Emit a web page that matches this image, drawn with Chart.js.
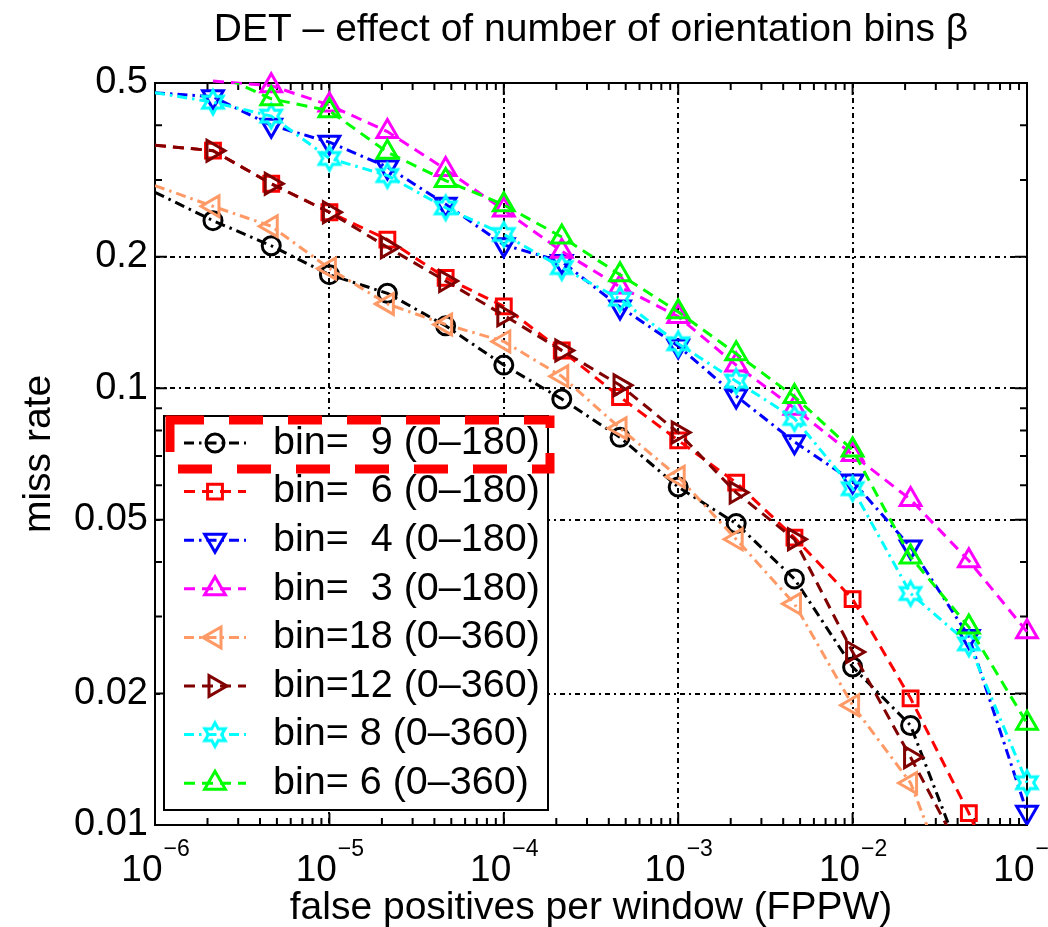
<!DOCTYPE html>
<html>
<head>
<meta charset="utf-8">
<title>DET – effect of number of orientation bins</title>
<script src="https://cdn.jsdelivr.net/npm/chart.js"></script>
<style>
  html, body { margin: 0; padding: 0; background: #fff; overflow: hidden; }
  canvas { display: block; }
</style>
</head>
<body>
<canvas id="det" width="1048" height="927"></canvas>
<script>
// FPPW values where the curves are sampled (the first one only carries the line to the axis)
const fppw = [1e-6, 2.15e-6, 4.64e-6, 1e-5, 2.15e-5, 4.64e-5, 1e-4, 2.15e-4, 4.64e-4, 1e-3, 2.15e-3, 4.64e-3, 1e-2, 2.15e-2, 4.64e-2, 1e-1];

// miss rate per curve
const bin9_180  = [0.281, 0.242, 0.212, 0.182, 0.165, 0.139, 0.113, 0.0945, 0.0772, 0.0594, 0.049, 0.0366, 0.023, 0.0169, 0.0076, null];
const bin6_180  = [0.36, 0.350, 0.294, 0.253, 0.219, 0.179, 0.154, 0.122, 0.0955, 0.076, 0.0608, 0.0455, 0.0329, 0.0195, 0.01065, 0.0052];
const bin4_180  = [0.475, 0.465, 0.40, 0.366, 0.321, 0.264, 0.213, 0.195, 0.1535, 0.125, 0.096, 0.0754, 0.0613, 0.0433, 0.027, 0.0107];
const bin3_180  = [null, 0.505, 0.493, 0.445, 0.387, 0.317, 0.256, 0.206, 0.1706, 0.146, 0.113, 0.090, 0.0705, 0.0556, 0.0403, 0.0277];
const bin18_360 = [0.291, 0.261, 0.235, 0.188, 0.156, 0.140, 0.128, 0.1065, 0.081, 0.0627, 0.0451, 0.0321, 0.0188, 0.01248, 0.0056, null];
const bin12_360 = [0.36, 0.350, 0.294, 0.253, 0.2104, 0.176, 0.147, 0.122, 0.1016, 0.0792, 0.0577, 0.0451, 0.0249, 0.0143, 0.008, null];
const bin8_360  = [0.475, 0.452, 0.42, 0.336, 0.307, 0.259, 0.225, 0.189, 0.160, 0.1265, 0.1038, 0.0853, 0.0589, 0.0339, 0.026, 0.0125];
const bin6_360  = [null, 0.53, 0.46, 0.432, 0.347, 0.299, 0.263, 0.222, 0.182, 0.1496, 0.120, 0.0957, 0.0722, 0.0411, 0.0284, 0.0171];

const seriesLabels = [
  'bin=  9 (0–180)', 'bin=  6 (0–180)', 'bin=  4 (0–180)', 'bin=  3 (0–180)',
  'bin=18 (0–360)', 'bin=12 (0–360)', 'bin= 8 (0–360)', 'bin= 6 (0–360)'
];
const seriesValues = [bin9_180, bin6_180, bin4_180, bin3_180, bin18_360, bin12_360, bin8_360, bin6_360];

// axes
const xTickValues = [1e-6, 1e-5, 1e-4, 1e-3, 1e-2, 1e-1];
const xTickExponents = ['−6', '−5', '−4', '−3', '−2', '−1'];
const xMinorSteps = [2, 3, 4, 5, 6, 7, 8, 9];
const yTickValues = [0.01, 0.02, 0.05, 0.1, 0.2, 0.5];
const yTickLabels = ['0.01', '0.02', '0.05', '0.1', '0.2', '0.5'];
const yMinorTicks = [0.03, 0.04, 0.06, 0.07, 0.08, 0.09, 0.3, 0.4];

const FONT = "'Liberation Sans', Arial, Helvetica, sans-serif";
const DASHED = [11, 7];
const DASHDOT = [10, 5, 2.5, 5];
const GRID_DASH = [5, 4, 2, 4];

// matlab style hexagram, Chart.js has no such point style
function hexagram(color) {
  const c = document.createElement('canvas');
  c.width = c.height = 32;
  const g = c.getContext('2d');
  g.strokeStyle = color;
  g.lineWidth = 3;
  g.beginPath();
  for (let i = 0; i < 12; i++) {
    const r = i % 2 ? 6.6 : 11.8;
    const a = -Math.PI / 2 + i * Math.PI / 6;
    const px = 16 + r * Math.cos(a), py = 16 + r * Math.sin(a);
    if (i === 0) g.moveTo(px, py); else g.lineTo(px, py);
  }
  g.closePath();
  g.stroke();
  return c;
}

const styles = [
  { color: '#000000', dash: DASHDOT, marker: 'circle',   rotation: 0,   radius: 9 },
  { color: '#ff0000', dash: DASHED,  marker: 'rect',     rotation: 0,   radius: 10.5 },
  { color: '#0000ff', dash: DASHDOT, marker: 'triangle', rotation: 180, radius: 12 },
  { color: '#ff00ff', dash: DASHED,  marker: 'triangle', rotation: 0,   radius: 12 },
  { color: '#ff9966', dash: DASHDOT, marker: 'triangle', rotation: 270, radius: 12 },
  { color: '#800000', dash: DASHED,  marker: 'triangle', rotation: 90,  radius: 12 },
  { color: '#00ffff', dash: DASHDOT, marker: hexagram('#00ffff'), rotation: 0, radius: 11 },
  { color: '#00ff00', dash: DASHED,  marker: 'triangle', rotation: 0,   radius: 12 }
];

// markers only where a real sample sits inside the axes
function markerShown(ctx) {
  const v = ctx.raw ? ctx.raw.y : null;
  return ctx.dataIndex > 0 && v != null && v >= 0.01 && v <= 0.5;
}

const datasets = seriesValues.map((vals, i) => {
  const st = styles[i];
  return {
    label: seriesLabels[i],
    data: fppw.map((x, k) => ({ x: x, y: vals[k] })),
    borderColor: st.color,
    borderWidth: 3,
    borderDash: st.dash,
    fill: false,
    tension: 0,
    pointStyle: st.marker,
    rotation: st.rotation,
    pointRadius: ctx => markerShown(ctx) ? st.radius : 0,
    pointBorderWidth: 3,
    pointBorderColor: st.color,
    pointBackgroundColor: 'rgba(0,0,0,0)',
    order: seriesValues.length - i,   // later series on top, like matlab
    clip: { left: 0, top: i === 7 ? 0 : 12, right: 14, bottom: 0 }
  };
});

// box with inward ticks on all four sides
const frame = {
  id: 'frame',
  beforeDatasetsDraw(chart) {
    const { ctx, chartArea: a, scales: { x, y } } = chart;
    ctx.save();
    ctx.strokeStyle = '#000';
    ctx.lineWidth = 2;
    ctx.setLineDash([]);
    ctx.beginPath();
    const vTick = (v, len) => {
      const p = x.getPixelForValue(v);
      ctx.moveTo(p, a.bottom); ctx.lineTo(p, a.bottom - len);
      ctx.moveTo(p, a.top); ctx.lineTo(p, a.top + len);
    };
    const hTick = (v, len) => {
      const p = y.getPixelForValue(v);
      ctx.moveTo(a.left, p); ctx.lineTo(a.left + len, p);
      ctx.moveTo(a.right, p); ctx.lineTo(a.right - len, p);
    };
    xTickValues.forEach((v, i) => {
      vTick(v, 12);
      if (i < xTickValues.length - 1) xMinorSteps.forEach(s => vTick(v * s, 7));
    });
    yTickValues.forEach(v => hTick(v, 12));
    yMinorTicks.forEach(v => hTick(v, 7));
    ctx.stroke();
    ctx.strokeRect(a.left, a.top, a.right - a.left, a.bottom - a.top);
    ctx.restore();
  }
};

// 10^n tick labels with a raised exponent
const powerLabels = {
  id: 'powerLabels',
  afterDraw(chart) {
    const { ctx, chartArea: a, scales: { x } } = chart;
    ctx.save();
    ctx.fillStyle = '#000';
    ctx.textAlign = 'left';
    ctx.textBaseline = 'alphabetic';
    xTickValues.forEach((v, i) => {
      const p = x.getPixelForValue(v);
      ctx.font = '37px ' + FONT;
      const wb = ctx.measureText('10').width;
      ctx.font = '23px ' + FONT;
      const we = ctx.measureText(xTickExponents[i]).width;
      const left = p - (wb + we) / 2;
      ctx.font = '37px ' + FONT;
      ctx.fillText('10', left, a.bottom + 56);
      ctx.font = '23px ' + FONT;
      ctx.fillText(xTickExponents[i], left + wb + 1, a.bottom + 31);
    });
    ctx.restore();
  }
};

// matlab-like legend (line sample + marker), bottom left inside the axes
const matLegend = {
  id: 'matLegend',
  afterDraw(chart) {
    const { ctx, chartArea: a } = chart;
    const box = { left: a.left + 9, top: a.top + 333, right: a.left + 393, bottom: a.bottom - 15 };
    const rowH = 48.6;
    ctx.save();
    ctx.fillStyle = '#fff';
    ctx.fillRect(box.left, box.top, box.right - box.left, box.bottom - box.top);
    ctx.strokeStyle = '#000';
    ctx.lineWidth = 2;
    ctx.setLineDash([]);
    ctx.strokeRect(box.left, box.top, box.right - box.left, box.bottom - box.top);

    chart.data.datasets.forEach((ds, i) => {
      const st = styles[i];
      const cy = box.top + 27 + i * rowH;
      const x0 = box.left + 20, x1 = box.left + 82, xm = (x0 + x1) / 2;
      ctx.strokeStyle = st.color;
      ctx.lineWidth = 3;
      ctx.setLineDash(st.dash);
      ctx.beginPath();
      ctx.moveTo(x0, cy);
      ctx.lineTo(x1, cy);
      ctx.stroke();
      ctx.setLineDash([]);
      ctx.fillStyle = 'rgba(0,0,0,0)';
      Chart.helpers.drawPoint(ctx, { pointStyle: st.marker, rotation: st.rotation, radius: st.radius, borderWidth: 3 }, xm, cy);
      ctx.fillStyle = '#000';
      ctx.font = '39.5px ' + FONT;
      ctx.textAlign = 'left';
      ctx.textBaseline = 'middle';
      ctx.fillText(ds.label, box.left + 109, cy);
    });

    // red dashed highlight round the first entry
    ctx.strokeStyle = '#ff0000';
    ctx.lineWidth = 9;
    ctx.setLineDash([34, 25]);
    ctx.strokeRect(box.left + 6, box.top + 4, box.right - box.left - 4, 49);
    ctx.restore();
  }
};

new Chart(document.getElementById('det'), {
  type: 'line',
  data: { datasets: datasets },
  plugins: [frame, powerLabels, matLegend],
  options: {
    responsive: false,
    devicePixelRatio: 1,
    animation: false,
    events: [],
    layout: { padding: { left: 0, right: 21, top: 0, bottom: 0 } },
    plugins: {
      legend: { display: false },
      tooltip: { enabled: false },
      title: {
        display: true,
        text: 'DET – effect of number of orientation bins β',
        fullSize: false,
        color: '#000',
        font: { family: FONT, size: 39, weight: 'normal', lineHeight: 1.2 },
        padding: { top: 7, bottom: 29.2 }
      }
    },
    scales: {
      x: {
        type: 'logarithmic',
        min: 1e-6,
        max: 1e-1,
        afterBuildTicks: s => { s.ticks = xTickValues.map(v => ({ value: v })); },
        afterFit: s => { s.height = 102; s.paddingLeft = 0; s.paddingRight = 0; },
        ticks: { display: false },
        grid: { color: '#000', lineWidth: 2, drawTicks: false },
        border: { display: false, dash: GRID_DASH },
        title: {
          display: true,
          text: 'false positives per window (FPPW)',
          color: '#000',
          font: { family: FONT, size: 39, lineHeight: 1 },
          padding: { top: 0, bottom: -1 }
        }
      },
      y: {
        type: 'logarithmic',
        min: 0.01,
        max: 0.5,
        afterBuildTicks: s => { s.ticks = yTickValues.map(v => ({ value: v })); },
        afterFit: s => { s.width = 155; },
        ticks: {
          autoSkip: false,
          color: '#000',
          padding: 7,
          font: { family: FONT, size: 38 },
          callback: (v, i) => yTickLabels[i]
        },
        grid: { color: '#000', lineWidth: 2, drawTicks: false },
        border: { display: false, dash: GRID_DASH },
        title: {
          display: true,
          text: 'miss rate',
          color: '#000',
          font: { family: FONT, size: 39, lineHeight: 1 },
          padding: { top: 20, bottom: 0 }
        }
      }
    }
  }
});
</script>
</body>
</html>
